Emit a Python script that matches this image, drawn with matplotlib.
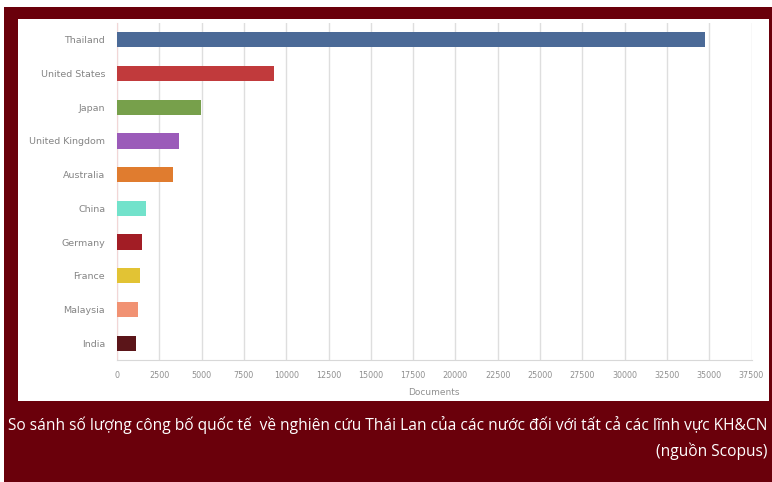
import matplotlib
matplotlib.use("Agg")
import matplotlib.pyplot as plt
from matplotlib.patches import Rectangle

countries = ["Thailand", "United States", "Japan", "United Kingdom", "Australia",
             "China", "Germany", "France", "Malaysia", "India"]
documents = [34750, 9250, 4980, 3650, 3300, 1700, 1500, 1380, 1220, 1140]
bar_colors = ["#4b6a97", "#c13a3c", "#77a04b", "#9b5bb9", "#e07c2f",
              "#72e2cb", "#a21d25", "#e2c334", "#f19273", "#5b1519"]
x_ticks = list(range(0, 37501, 2500))
caption_line1 = ("So sánh số lượng công bố quốc tế  về nghiên cứu Thái Lan "
                 "của các nước đối với tất cả các lĩnh vực KH&CN")
caption_line2 = "(nguồn Scopus)"

W, H = 772, 482
fig = plt.figure(figsize=(W / 100, H / 100), dpi=100, facecolor="white")

def px_rect(x0, y0, x1, y1, color, z):
    fig.patches.append(Rectangle((x0 / W, 1 - y1 / H), (x1 - x0) / W, (y1 - y0) / H,
                                 transform=fig.transFigure, facecolor=color,
                                 edgecolor="none", zorder=z))

# dark red frame and the white chart panel inside it
px_rect(4, 7, 772, 482, "#6a000b", 0)
px_rect(18, 19, 769, 401, "white", 1)

ax = fig.add_axes([117 / W, 1 - 360 / H, (751.5 - 117) / W, 337 / H])
ax.set_zorder(2)
ax.patch.set_alpha(0)

y = range(len(countries))
ax.barh(y, documents, height=0.45, color=bar_colors, zorder=3)
ax.set_ylim(len(countries) - 0.5, -0.5)
ax.set_xlim(0, 37500)
ax.set_xticks(x_ticks)
ax.set_xticklabels([str(t) for t in x_ticks])
ax.set_yticks(list(y))
ax.set_yticklabels(countries)
ax.grid(axis="x", color="#dedede", linewidth=1.0, zorder=0)
ax.set_axisbelow(True)

for s in ["top", "right"]:
    ax.spines[s].set_visible(False)
ax.spines["left"].set_color("#f2d6d6")
ax.spines["bottom"].set_color("#d8d8d8")
ax.tick_params(axis="x", length=0, pad=8, labelsize=5.8, labelcolor="#909090")
ax.tick_params(axis="y", length=0, pad=8.5, labelsize=6.8, labelcolor="#858585")
ax.set_xlabel("Documents", fontsize=6.5, color="#909090", labelpad=6)

fig.text(767 / W, 1 - 425 / H, caption_line1, ha="right", va="center",
         fontsize=11.2, color="white", family="Open Sans", zorder=5)
fig.text(767 / W, 1 - 451 / H, caption_line2, ha="right", va="center",
         fontsize=11.2, color="white", family="Open Sans", zorder=5)

fig.savefig("out.png", dpi=100, facecolor="white")
